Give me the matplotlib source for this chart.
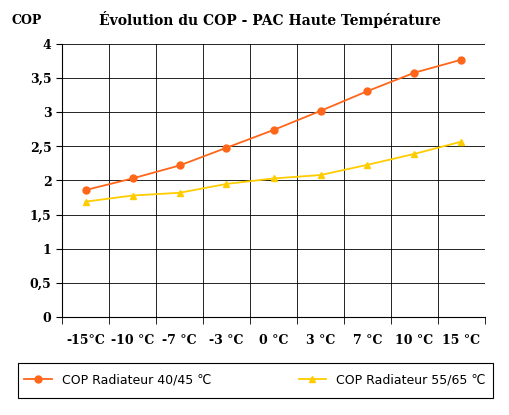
import matplotlib
matplotlib.use('Agg')
import matplotlib.pyplot as plt
from matplotlib.patches import Rectangle
import numpy as np

# Data
temps = ['-15°C', '-10 °C', '-7 °C', '-3 °C', '0 °C', '3 °C', '7 °C', '10 °C', '15 °C']
cop_40_45 = [1.86, 2.03, 2.22, 2.48, 2.74, 3.02, 3.31, 3.58, 3.77]
cop_55_65 = [1.69, 1.78, 1.82, 1.95, 2.03, 2.08, 2.23, 2.39, 2.57]

fig = plt.figure(figsize=(5.09, 4.15), dpi=100)
ax = fig.add_axes([62/509, 1 - 317/415, (485-62)/509, (317-44)/415])

x = np.arange(len(temps))
l1, = ax.plot(x, cop_40_45, color='#ff6619', marker='o', markersize=5, linewidth=1.3,
              label='COP Radiateur 40/45 ℃')
l2, = ax.plot(x, cop_55_65, color='#ffcc00', marker='^', markersize=5, linewidth=1.3,
              label='COP Radiateur 55/65 ℃')

ax.set_xlim(-0.5, len(temps) - 0.5)
ax.set_ylim(0, 4)
ax.set_yticks(np.arange(0, 4.01, 0.5))
ax.set_yticklabels(['0', '0,5', '1', '1,5', '2', '2,5', '3', '3,5', '4'],
                   family='DejaVu Serif', fontweight='bold', fontsize=9)
ax.set_xticks(x)
ax.set_xticklabels(temps, family='DejaVu Serif', fontweight='bold', fontsize=9)
ax.tick_params(axis='x', length=0, pad=12)
ax.set_xticks(np.arange(-0.5, len(temps), 1), minor=True)
ax.tick_params(axis='x', which='minor', length=5, direction='out')
ax.tick_params(axis='y', length=4, direction='out')
ax.grid(True, which='minor', axis='x', color='black', linewidth=0.6)
ax.grid(True, which='major', axis='y', color='black', linewidth=0.6)
for s in ['top', 'right']:
    ax.spines[s].set_visible(False)

fig.text(12/509, 1 - 20/415, 'COP', family='DejaVu Serif', fontweight='bold', fontsize=9, va='center')
fig.text(270/509, 1 - 20/415, 'Évolution du COP - PAC Haute Température',
         family='DejaVu Serif', fontweight='bold', fontsize=10, ha='center', va='center')

# legend box
fig.patches.append(Rectangle((18/509, 1 - 398/415), 475/509, 35/415, transform=fig.transFigure,
                             fill=False, edgecolor='black', linewidth=0.8))
fig.legend(handles=[l1, l2], loc='center', ncol=2, bbox_to_anchor=(255/509, 1 - 380/415),
           frameon=False, fontsize=9, handlelength=2.2, columnspacing=7)

fig.savefig('out.png', dpi=100)
